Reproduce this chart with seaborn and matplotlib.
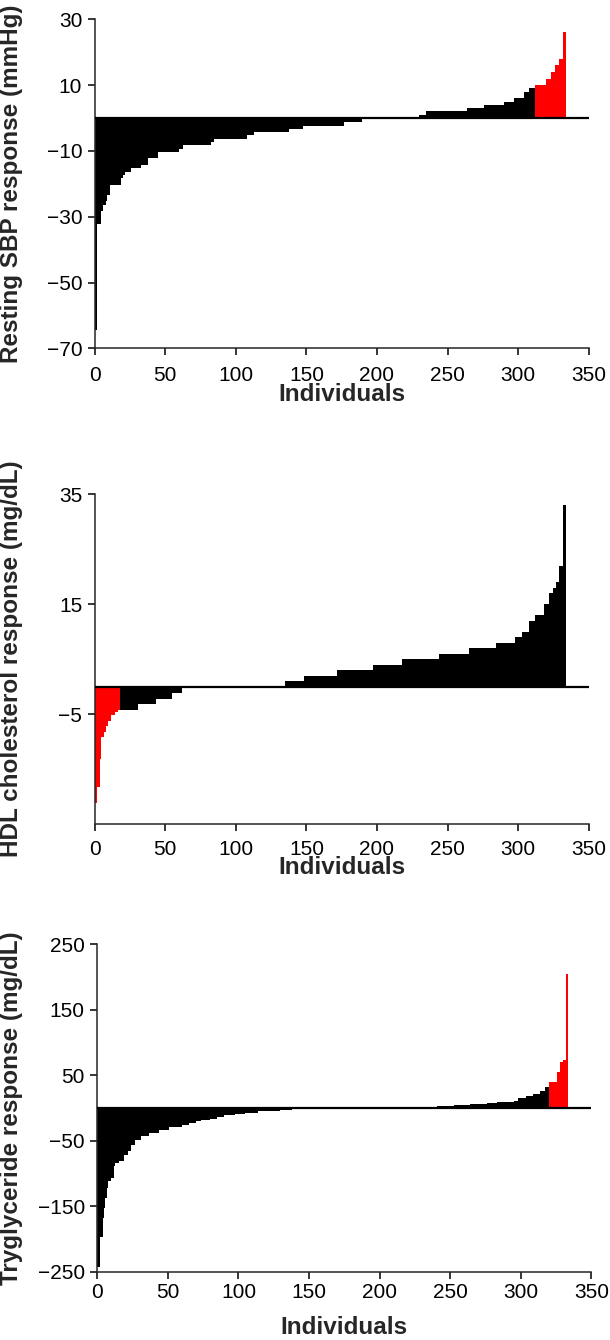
import numpy as np
import pandas as pd
import matplotlib
matplotlib.use("Agg")
import matplotlib.pyplot as plt
import seaborn as sns

# each response is stored as sorted runs: value and number of individuals at it
sbp_vals = [-64, -32, -28, -26, -25, -23, -20, -18, -17, -16, -15, -14, -12, -10, -9, -8, -7,
            -6, -5, -4, -3, -2, -1, 0, 1, 2, 3, 4, 5, 6, 8, 9, 10, 12, 14, 16, 18, 26]
sbp_counts = [1, 3, 1, 2, 1, 2, 8, 1, 2, 4, 7, 5, 7, 15, 3, 20, 2,
              23, 5, 25, 10, 29, 13, 41, 5, 29, 12, 14, 7, 7, 4, 4, 8, 3, 3, 3, 3, 1]
sbp_red_last = 21   # adverse responders (highest SBP rise)

hdl_vals = [-21, -18, -13, -9, -8, -7, -6, -5, -4.5, -4, -3, -2, -1, 0, 1, 2, 3, 4, 5, 6, 7,
            8, 9, 10, 12, 13, 15, 17, 18, 19, 22, 33]
hdl_counts = [1, 2, 1, 2, 1, 2, 2, 3, 2, 14, 13, 11, 7, 74, 13, 24, 25, 21, 26, 21, 19,
              14, 5, 5, 4, 6, 4, 3, 2, 2, 3, 1]
hdl_red_first = 18  # adverse responders (largest HDL drop)

tg_vals = [-242, -196, -167, -151, -136, -121, -110, -105, -87, -82, -79, -70, -65, -55, -48,
           -42, -37, -33, -28, -24, -22, -19, -17, -15, -12, -10, -8, -6, -4, -3, -1, 0,
           1, 2, 3.5, 5, 6, 7, 9, 11, 15, 18, 21, 26, 32, 40, 55, 70, 73, 204]
tg_counts = [1, 2, 1, 1, 1, 1, 2, 2, 1, 3, 3, 3, 2, 3, 4,
             6, 7, 7, 9, 5, 5, 4, 6, 5, 5, 8, 7, 9, 9, 7, 8, 81,
             11, 12, 12, 11, 12, 7, 12, 3, 6, 5, 5, 3, 3, 6, 2, 2, 2, 1]
tg_red_last = 13

x_ticks = [0, 50, 100, 150, 200, 250, 300, 350]


def make_df(vals, counts, red_first=0, red_last=0):
    y = np.repeat(vals, counts).astype(float)
    n = len(y)
    grp = np.array(["lo"] * n, dtype=object)
    if red_first:
        grp[:red_first] = "hi"
    if red_last:
        grp[n - red_last:] = "hi"
    return pd.DataFrame({"x": np.arange(n) + 0.5, "y": y, "grp": grp})


sns.set_style("ticks")
plt.rcParams["font.family"] = ["Liberation Sans", "DejaVu Sans"]

fig = plt.figure(figsize=(6.1, 13.4), dpi=100)

# df, y label, ylim, yticks, (left, top, bottom) in px, tick pad (pt), xlabel offset (px)
panels = [
    (make_df(sbp_vals, sbp_counts, red_last=sbp_red_last), "Resting SBP response (mmHg)",
     (-70, 30), [-70, -50, -30, -10, 10, 30], (94.7, 19.3, 348.3), 7.5, 46),
    (make_df(hdl_vals, hdl_counts, red_first=hdl_red_first), "HDL cholesterol response (mg/dL)",
     (-25, 35), [-5, 15, 35], (94.7, 494, 824), 6.5, 44),
    (make_df(tg_vals, tg_counts, red_last=tg_red_last), "Tryglyceride response (mg/dL)",
     (-250, 250), [-250, -150, -50, 50, 150, 250], (97.3, 944, 1271.7), 3, 56),
]

W, H = 610, 1340
for df, ylab, ylim, yticks, (left, top, bottom), xpad, xlab_off in panels:
    ax = fig.add_axes([left / W, 1 - bottom / H, 494 / W, (bottom - top) / H])
    sns.barplot(data=df, x="x", y="y", hue="grp", palette={"lo": "black", "hi": "red"},
                native_scale=True, dodge=False, width=1, saturation=1, errorbar=None,
                legend=False, linewidth=0, ax=ax)
    for p in ax.patches:
        p.set_edgecolor(p.get_facecolor())
        p.set_linewidth(0.5)
        p.set_antialiased(False)
    ax.axhline(0, color="black", lw=1.6, zorder=3)
    ax.set_xlim(0, 350)
    ax.set_ylim(*ylim)
    ax.set_xticks(x_ticks)
    ax.set_yticks(yticks)
    sns.despine(ax=ax)
    for s in ["left", "bottom"]:
        ax.spines[s].set_linewidth(1.1)
    ax.tick_params(direction="out", length=5, width=1.1, labelsize=15, colors="black")
    ax.tick_params(axis="x", pad=xpad)
    ax.tick_params(axis="y", pad=4)
    ax.set_xlabel("Individuals", fontsize=17.5, fontweight="bold", va="center")
    ax.set_ylabel(ylab, fontsize=17.5, fontweight="bold", va="center")
    ax.yaxis.set_label_coords(-(left - 12) / 494, 0.5)
    ax.xaxis.set_label_coords(0.5, -xlab_off / (bottom - top))

fig.savefig("out.png", dpi=100, facecolor="white")
